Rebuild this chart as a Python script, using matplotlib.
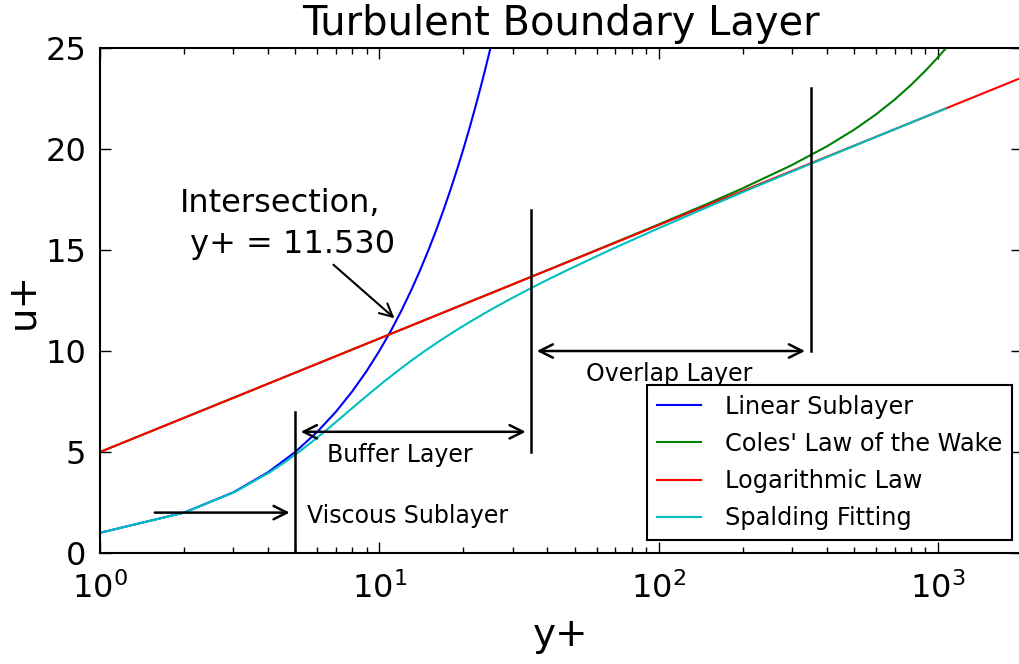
import matplotlib
matplotlib.use("Agg")
import matplotlib.pyplot as plt


# Linear sublayer, u+ = y+
y_lin = [1, 2, 3, 4, 5, 6, 7, 8, 9, 10, 11, 12, 13, 14, 15, 16, 17, 18,
         19, 20, 21, 22, 23, 24, 25, 26]
u_lin = [1, 2, 3, 4, 5, 6, 7, 8, 9, 10, 11, 12, 13, 14, 15, 16, 17, 18,
         19, 20, 21, 22, 23, 24, 25, 26]

# Coles' law of the wake
y_coles = [1, 10, 30, 50, 100, 150, 200, 300, 400, 500, 600, 700, 800,
           900, 1000, 1100, 1200]
u_coles = [5.000, 10.616, 13.299, 14.549, 16.265, 17.295, 18.055, 19.205,
           20.127, 20.946, 21.711, 22.447, 23.163, 23.860, 24.538, 25.192,
           25.814]

# logarithmic law (straight on a semilog axis)
y_log = [1, 2000]
u_log = [5.0, 23.539]

# Spalding fit
u_spal = [1, 2, 3, 4, 4.5, 5, 5.5, 6, 6.5, 7, 7.5, 8, 8.5, 9, 9.5, 10,
          10.5, 11, 11.5, 12, 12.5, 13, 13.5, 14, 15, 16, 17, 18, 19, 20,
          21, 22]
y_spal = [1.000, 2.003, 3.016, 4.056, 4.595, 5.152, 5.735, 6.352, 7.015,
          7.735, 8.530, 9.421, 10.432, 11.597, 12.953, 14.550, 16.447,
          18.718, 21.452, 24.761, 28.782, 33.683, 39.670, 46.997, 66.99,
          97.11, 142.58, 211.21, 314.87, 471.36, 707.5, 1063.9]

# layer boundaries and the u+ span of each marker line
bound_y = [5, 35, 350]
bound_lo = [0, 5, 10]
bound_hi = [7, 17, 23]

# region arrows: (start y+, end y+, u+, style)
region_arrows = [(1.5, 5, 2, "->"), (5, 35, 6, "<->"), (35, 350, 10, "<->")]
region_labels = ["Viscous Sublayer", "Buffer Layer", "Overlap Layer"]
label_pos = [(5.5, 1.5), (6.5, 4.5), (55, 8.5)]

y_int = 11.530


fig = plt.figure(figsize=(10.19, 6.64), dpi=100)
ax = fig.add_axes([100/1019, 111/664, 922/1019, 505/664])

ax.semilogx(y_lin, u_lin, color="b", lw=1.5, label="Linear Sublayer")
ax.semilogx(y_coles, u_coles, color="g", lw=1.5, label="Coles' Law of the Wake")
ax.semilogx(y_log, u_log, color="r", lw=1.5, label="Logarithmic Law")
ax.semilogx(y_spal, u_spal, color="c", lw=1.5, label="Spalding Fitting")

for x, lo, hi in zip(bound_y, bound_lo, bound_hi):
    ax.plot([x, x], [lo, hi], color="k", lw=1.8)

for (x0, x1, u, style), txt, pos in zip(region_arrows, region_labels, label_pos):
    ax.annotate("", xy=(x1, u), xytext=(x0, u),
                arrowprops=dict(arrowstyle=style, color="k", lw=1.8,
                                mutation_scale=24, shrinkA=4, shrinkB=4))
    ax.text(pos[0], pos[1], txt, fontsize=17)

ax.annotate("Intersection,\n y+ = %.3f" % y_int, xy=(y_int, y_int),
            xytext=(1.93, 14.5), va="bottom", ha="left", fontsize=23,
            linespacing=1.4,
            arrowprops=dict(arrowstyle="->", color="k", lw=1.5))

ax.set_xlim(1, 2000)
ax.set_ylim(0, 25)
ax.set_yticks([0, 5, 10, 15, 20, 25])

ax.set_title("Turbulent Boundary Layer", fontsize=28.8, pad=9)
ax.set_xlabel("y+", fontsize=28, labelpad=8)
ax.set_ylabel("u+", fontsize=28, labelpad=3)

ax.tick_params(which="both", direction="in", top=True, right=True,
               labelsize=23, pad=10)
ax.tick_params(axis="x", which="both", pad=14)
ax.tick_params(which="major", length=8, width=1)
ax.tick_params(which="minor", length=4.5, width=1)
for s in ax.spines.values():
    s.set_linewidth(1.5)

leg = ax.legend(loc="lower right", bbox_to_anchor=(0.989, 0.026),
                borderaxespad=0, fontsize=17.3, fancybox=False,
                framealpha=1, edgecolor="k", handlelength=1.85,
                handletextpad=1.0, labelspacing=0.55)
leg.get_frame().set_linewidth(1.5)

fig.savefig("out.png", dpi=100)
